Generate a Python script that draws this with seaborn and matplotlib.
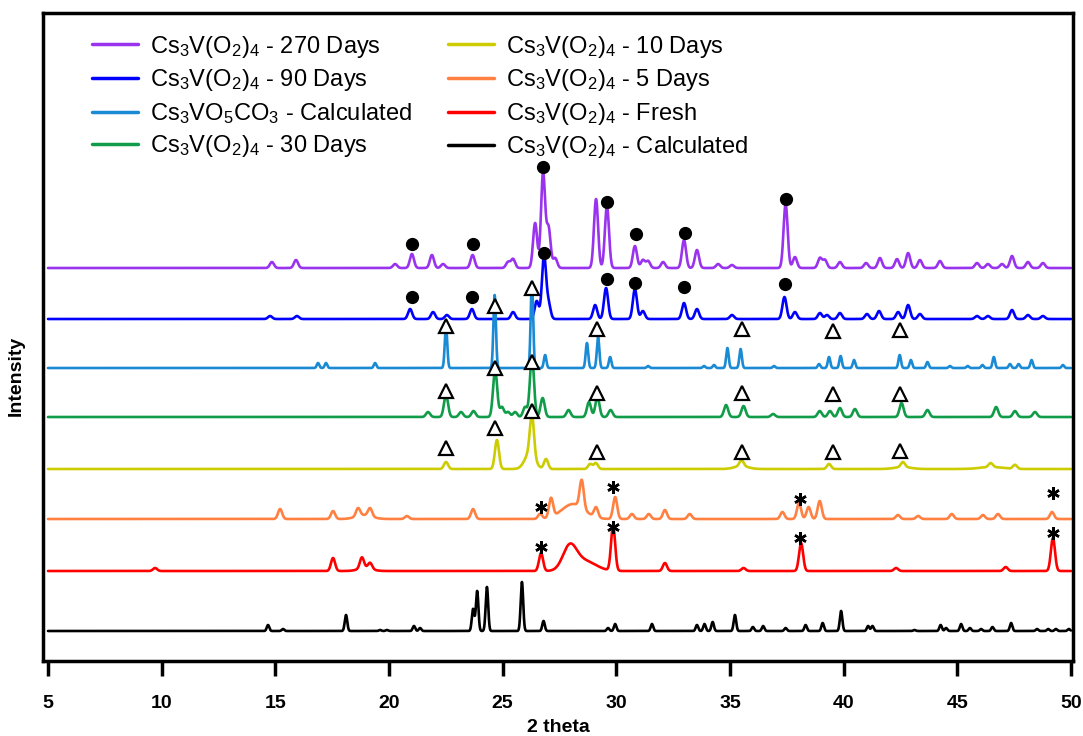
import numpy as np
import pandas as pd
import matplotlib
matplotlib.use('Agg')
import matplotlib.pyplot as plt
import seaborn as sns

# sampling grid for the patterns
two_theta = np.arange(5.0, 50.0001, 0.01)

labels = ['Cs$_3$V(O$_2$)$_4$ - 270 Days',
          'Cs$_3$V(O$_2$)$_4$ - 90 Days',
          'Cs$_3$VO$_5$CO$_3$ - Calculated',
          'Cs$_3$V(O$_2$)$_4$ - 30 Days',
          'Cs$_3$V(O$_2$)$_4$ - 10 Days',
          'Cs$_3$V(O$_2$)$_4$ - 5 Days',
          'Cs$_3$V(O$_2$)$_4$ - Fresh',
          'Cs$_3$V(O$_2$)$_4$ - Calculated']
colors = ['#9933ee', '#0000ff', '#1a8ad4', '#109c48',
          '#cccc00', '#ff8040', '#ff0000', '#000000']
offsets = [393, 342, 293, 244, 192, 142, 90, 30]

# peaks: (2 theta, height)
purple_peaks = [(14.85, 6), (15.91, 8), (20.27, 4), (21.01, 14), (21.89, 13), (22.38, 4),
                (23.68, 13), (25.24, 6), (25.46, 9), (26.43, 45), (26.78, 95), (27.02, 40),
                (27.31, 10), (29.11, 69), (29.59, 62), (30.82, 22), (31.17, 8), (31.40, 7),
                (32.06, 6), (32.98, 28), (33.55, 18), (34.48, 4), (35.09, 3), (37.45, 64),
                (37.86, 11), (38.96, 10), (39.18, 8), (39.84, 6), (40.99, 5), (41.60, 10),
                (42.35, 9), (42.84, 15), (43.36, 8), (44.24, 7), (45.87, 5), (46.35, 4),
                (46.97, 4), (47.41, 12), (48.11, 6), (48.77, 5)]
blue_peaks = [(14.77, 3), (15.95, 3), (20.93, 10), (21.94, 7), (22.55, 4), (23.65, 10),
              (25.46, 7), (26.50, 18), (26.82, 63), (27.02, 15), (29.07, 14), (29.55, 31),
              (30.82, 30), (31.17, 8), (32.98, 16), (33.55, 10), (35.09, 4), (37.40, 22),
              (37.86, 7), (38.96, 6), (39.27, 4), (39.84, 6), (41.03, 5), (41.56, 8),
              (42.40, 7), (42.84, 14), (43.36, 5), (45.87, 3), (46.35, 3), (47.41, 9),
              (48.11, 4), (48.77, 3)]
cyan_peaks = [(16.88, 5), (17.23, 5), (19.39, 5), (22.51, 41), (24.65, 73), (26.29, 86),
              (26.87, 13), (28.71, 25), (29.20, 31), (29.73, 11), (31.40, 2), (33.86, 2),
              (34.30, 3), (34.89, 20), (35.47, 19), (36.94, 2), (38.92, 4), (39.36, 11),
              (39.87, 12), (40.46, 8), (42.47, 13), (42.96, 8), (43.69, 6), (44.68, 2),
              (45.46, 2), (46.11, 3), (46.61, 11), (47.32, 4), (47.70, 4), (48.27, 8),
              (49.65, 3)]
green_peaks = [(21.72, 5), (22.51, 22), (23.17, 5), (23.72, 6), (24.67, 48), (24.97, 10),
               (25.24, 5), (25.55, 5), (25.99, 10), (26.29, 61), (26.76, 19), (27.90, 7),
               (28.80, 15), (29.17, 20), (29.75, 7), (34.83, 12), (35.60, 11), (36.90, 3),
               (38.95, 6), (39.40, 6), (39.84, 9), (40.50, 8), (42.55, 14), (43.69, 7),
               (46.71, 10), (47.54, 6), (48.42, 5)]
yellow_peaks = [(22.51, 7), (24.75, 29), (26.29, 40), (26.91, 10), (28.85, 5), (29.10, 6),
                (35.51, 6), (39.36, 5), (42.61, 5), (46.47, 4), (47.54, 4)]
orange_peaks = [(15.21, 10), (17.54, 8), (18.64, 8), (19.17, 8), (20.79, 3), (23.70, 10),
                (26.65, 5), (27.13, 19), (28.48, 28), (29.11, 10), (29.95, 22), (30.69, 5),
                (31.43, 5), (32.14, 9), (33.23, 5), (37.31, 7), (38.04, 16), (38.46, 12),
                (38.95, 18), (42.39, 4), (43.28, 3), (44.76, 5), (46.13, 4), (46.79, 5),
                (49.17, 7)]
red_peaks = [(9.71, 3), (17.54, 13), (18.81, 11), (19.17, 6), (26.69, 18), (29.86, 45),
             (32.14, 8), (35.60, 3), (38.13, 28), (42.31, 3), (47.13, 4), (49.21, 33)]
black_peaks = [(14.68, 6), (15.34, 2), (18.11, 16), (19.61, 1), (19.91, 1), (21.10, 5),
               (21.37, 3), (23.70, 22), (23.88, 40), (24.31, 44), (25.85, 49), (26.80, 10),
               (29.64, 3), (29.95, 7), (31.57, 7), (33.55, 6), (33.88, 7), (34.24, 9),
               (35.22, 16), (36.01, 4), (36.46, 5), (37.45, 3), (38.33, 6), (39.08, 8),
               (39.89, 20), (41.08, 5), (41.27, 5), (43.12, 1), (44.27, 6), (44.51, 3),
               (45.17, 7), (45.56, 3), (46.05, 2), (46.55, 4), (47.37, 8), (48.51, 2),
               (49.00, 2), (49.34, 2), (49.91, 2)]

# broad humps: (2 theta, height, width)
yellow_broad = [(26.20, 16, 0.22), (35.50, 3, 0.30), (42.60, 2, 0.35), (46.50, 2, 0.50)]
orange_broad = [(18.90, 4, 0.35), (28.10, 15, 0.50)]
red_broad = [(27.95, 23, 0.30), (28.60, 10, 0.50), (18.95, 3, 0.30)]

all_peaks = [purple_peaks, blue_peaks, cyan_peaks, green_peaks,
             yellow_peaks, orange_peaks, red_peaks, black_peaks]
all_broad = [[], [], [], [], yellow_broad, orange_broad, red_broad, []]
peak_width = [0.09, 0.09, 0.055, 0.09, 0.09, 0.09, 0.09, 0.055]

# marker annotations
dot_x_270 = [21.01, 23.70, 26.78, 29.59, 30.87, 33.02, 37.45]
dot_y_270 = [417, 417, 494, 459, 427, 428, 462]
dot_x_90 = [21.01, 23.65, 26.82, 29.59, 30.82, 32.98, 37.42]
dot_y_90 = [364, 364, 408, 382, 378, 374, 377]
tri_x = [22.51, 24.67, 26.29, 29.15, 35.53, 39.54, 42.48]
tri_y_calc = [335, 355, 373, 332, 332, 330, 331]
tri_y_30 = [270, 293, 299, 268, 268, 267, 267]
tri_y_10 = [213, 233, 250, 209, 209, 209, 210]
star_x = [26.67, 29.86, 38.10, 49.21]
star_y_5 = [154, 174, 162, 168]
star_y_fresh = [114, 134, 123, 128]


def pattern(peaks, broad, sigma, base):
    y = np.full_like(two_theta, float(base))
    for pos, h in peaks:
        y += h * np.exp(-(two_theta - pos) ** 2 / (2 * sigma ** 2))
    for pos, h, w in broad:
        y += h * np.exp(-(two_theta - pos) ** 2 / (2 * w ** 2))
    return y


frames = []
for lab, pk, br, w, off in zip(labels, all_peaks, all_broad, peak_width, offsets):
    frames.append(pd.DataFrame({'two_theta': two_theta,
                                'intensity': pattern(pk, br, w, off),
                                'sample': lab}))
df = pd.concat(frames, ignore_index=True)

sns.set_theme(style='ticks')
plt.rcParams['font.family'] = ['Liberation Sans', 'DejaVu Sans']
plt.rcParams['mathtext.default'] = 'regular'
plt.rcParams['text.color'] = 'black'
plt.rcParams['axes.labelcolor'] = 'black'
plt.rcParams['xtick.color'] = 'black'

fig = plt.figure(figsize=(10.83, 7.36), dpi=100)
ax = fig.add_axes([0.0397, 0.1019, 0.951, 0.8804])

sns.lineplot(data=df, x='two_theta', y='intensity', hue='sample', hue_order=labels,
             palette=colors, estimator=None, sort=False, linewidth=1.9, ax=ax)

mk = dict(linestyle='none', zorder=5)
ax.plot(dot_x_270, dot_y_270, marker='o', ms=8.5, color='black', **mk)
ax.plot(dot_x_90, dot_y_90, marker='o', ms=8.5, color='black', **mk)
for ty in [tri_y_calc, tri_y_30, tri_y_10]:
    ax.plot(tri_x, ty, marker='^', ms=10, mfc='white', mec='black', mew=1.6, **mk)
for sy in [star_y_5, star_y_fresh]:
    ax.plot(star_x, sy, marker=(6, 2, 0), ms=9, mec='black', mew=1.8, **mk)

ax.set_xlim(4.78, 50.09)
ax.set_ylim(0, 648)
ax.set_xticks(range(5, 51, 5))
ax.set_yticks([])
ax.tick_params(axis='x', direction='out', length=11, width=2.5, pad=13.5,
               labelsize=14, color='black', labelcolor='black')
for t in ax.get_xticklabels():
    t.set_fontweight('bold')
for s in ax.spines.values():
    s.set_linewidth(2.5)
    s.set_color('black')

ax.set_xlabel('2 theta', fontsize=14, fontweight='bold', labelpad=5, color='black')
ax.set_ylabel('Intensity', fontsize=14, fontweight='bold', color='black')
ax.yaxis.set_label_coords(-0.0175, 0.44)

handles, _ = ax.get_legend_handles_labels()
leg = ax.legend(handles[:8], labels, ncol=2, frameon=False, fontsize=17,
                loc='upper left', bbox_to_anchor=(0.0476, 0.968), borderpad=0,
                borderaxespad=0, handlelength=1.95, handletextpad=0.5,
                columnspacing=1.55, labelspacing=0.32, labelcolor='black')
for h in leg.get_lines():
    h.set_linewidth(2.5)

plt.savefig('out.png', dpi=100)
